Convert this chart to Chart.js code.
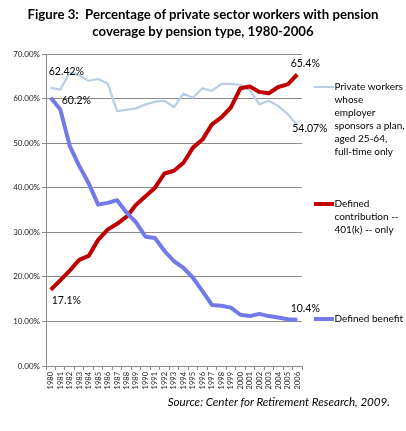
<!DOCTYPE html>
<html>
<head>
<meta charset="utf-8">
<script src="https://cdn.jsdelivr.net/npm/chart.js@4/dist/chart.umd.min.js"></script>
<style>
  html, body { margin: 0; padding: 0; background: #fff; }
  #wrap { position: relative; width: 406px; height: 431px; overflow: hidden; }
  #title { position: absolute; left: 0; top: 6px; width: 406px; text-align: center;
           font-family: Lato, sans-serif; font-weight: bold; font-size: 13.2px; line-height: 17px; color: #000; }
  #source { position: absolute; right: 16px; top: 395px;
            font-family: Lato, sans-serif; font-style: italic; font-size: 11.6px; color: #000; }
  canvas { position: absolute; left: 0; top: 0; }
</style>
</head>
<body>
<div id="wrap">
  <canvas id="chart" width="406" height="431"></canvas>
  <div id="title">Figure 3:&nbsp; Percentage of private sector workers with pension<br>coverage by pension type, 1980-2006</div>
  <div id="source">Source: Center for Retirement Research, 2009.</div>
</div>
<script>
// data (percent of private sector workers)
var years = ['1980','1981','1982','1983','1984','1985','1986','1987','1988','1989',
             '1990','1991','1992','1993','1994','1995','1996','1997','1998','1999',
             '2000','2001','2002','2003','2004','2005','2006'];

var privateWorkers = [62.42, 62.0, 65.8, 65.2, 64.0, 64.4, 63.4, 57.2, 57.5, 57.8,
                      58.7, 59.3, 59.5, 58.1, 61.1, 60.2, 62.3, 61.7, 63.3, 63.3,
                      63.1, 61.9, 58.7, 59.5, 58.3, 56.5, 54.07];

var definedContribution = [17.1, 19.2, 21.4, 23.8, 24.7, 28.3, 30.6, 31.9, 33.5, 36.2,
                           38.1, 40.0, 43.2, 43.8, 45.6, 49.0, 50.8, 54.2, 55.8, 58.0,
                           62.3, 62.7, 61.5, 61.2, 62.6, 63.2, 65.4];

var definedBenefit = [60.2, 57.6, 49.4, 44.9, 41.0, 36.2, 36.6, 37.2, 34.4, 32.2,
                      29.0, 28.7, 25.8, 23.5, 22.0, 19.8, 16.8, 13.7, 13.5, 13.1,
                      11.5, 11.2, 11.7, 11.2, 10.9, 10.5, 10.4];

var yTicks = [0, 10, 20, 30, 40, 50, 60, 70];

var legendLines = [
  ['Private workers', 'whose', 'employer', 'sponsors a plan,', 'aged 25-64,', 'full-time only'],
  ['Defined', 'contribution --', '401(k) -- only'],
  ['Defined benefit']
];

var colPW = '#b9cde5';
var colDC = '#c00000';
var colDB = '#7279e8';
var gridCol = '#8c8c8c';

// end labels: dataset index, point index, text, dx, dy, align
var pointLabels = [
  [0, 0, '62.42%', -2, -16, 'left'],
  [2, 0, '60.2%', 11, 3, 'left'],
  [1, 0, '17.1%', 1, 11, 'left'],
  [1, 26, '65.4%', 8, -11, 'center'],
  [0, 26, '54.07%', -5, 4, 'left'],
  [2, 26, '10.4%', 8, -11, 'center']
];

var extras = {
  id: 'extras',
  afterDatasetsDraw: function(chart) {
    var ctx = chart.ctx;
    ctx.save();
    ctx.fillStyle = '#000';
    ctx.font = '10.5px Lato, sans-serif';
    ctx.textBaseline = 'middle';
    pointLabels.forEach(function(l) {
      var pt = chart.getDatasetMeta(l[0]).data[l[1]];
      ctx.textAlign = l[5];
      ctx.fillText(l[2], pt.x + l[3], pt.y + l[4]);
    });

    // legend to the right of the plot
    var tops = [87, 204, 319];
    var cols = [colPW, colDC, colDB];
    var widths = [2, 4, 4];
    ctx.textAlign = 'left';
    ctx.font = '10px Lato, sans-serif';
    legendLines.forEach(function(lines, i) {
      ctx.strokeStyle = cols[i];
      ctx.lineWidth = widths[i];
      ctx.beginPath();
      ctx.moveTo(314, tops[i]);
      ctx.lineTo(334, tops[i]);
      ctx.stroke();
      lines.forEach(function(t, j) {
        ctx.fillText(t, 334.5, tops[i] + j * 13);
      });
    });
    ctx.restore();
  }
};

var ctx = document.getElementById('chart');

var chart = new Chart(ctx, {
  type: 'line',
  data: {
    labels: years,
    datasets: [
      { label: 'Private workers whose employer sponsors a plan, aged 25-64, full-time only',
        data: privateWorkers, borderColor: colPW, borderWidth: 2.2, order: 3 },
      { label: 'Defined contribution -- 401(k) -- only',
        data: definedContribution, borderColor: colDC, borderWidth: 4, order: 2 },
      { label: 'Defined benefit',
        data: definedBenefit, borderColor: colDB, borderWidth: 4, order: 1 }
    ]
  },
  options: {
    responsive: false,
    animation: false,
    devicePixelRatio: 1,
    layout: { padding: { top: 54, right: 104, bottom: 29, left: 0 } },
    elements: {
      point: { radius: 0, hoverRadius: 0 },
      line: { tension: 0, borderJoinStyle: 'round', borderCapStyle: 'butt', fill: false }
    },
    plugins: {
      legend: { display: false },
      title: { display: false },
      tooltip: { enabled: false }
    },
    scales: {
      x: {
        type: 'category',
        offset: true,
        afterFit: function(s) { s.height = 36; },
        grid: { offset: true, drawOnChartArea: false, tickLength: 4, color: gridCol },
        border: { color: gridCol },
        ticks: { minRotation: 90, maxRotation: 90, autoSkip: false, padding: 2,
                 color: '#222', font: { family: 'Lato, sans-serif', size: 7.5 } }
      },
      y: {
        min: 0, max: 70,
        afterFit: function(s) { s.width = 46; },
        afterBuildTicks: function(s) { s.ticks = yTicks.map(function(v) { return { value: v }; }); },
        grid: { color: gridCol, tickLength: 4 },
        border: { color: gridCol },
        ticks: { padding: 2, color: '#222', font: { family: 'Lato, sans-serif', size: 8 },
                 callback: function(v) { return v.toFixed(2) + '%'; } }
      }
    }
  },
  plugins: [extras]
});
</script>
</body>
</html>
